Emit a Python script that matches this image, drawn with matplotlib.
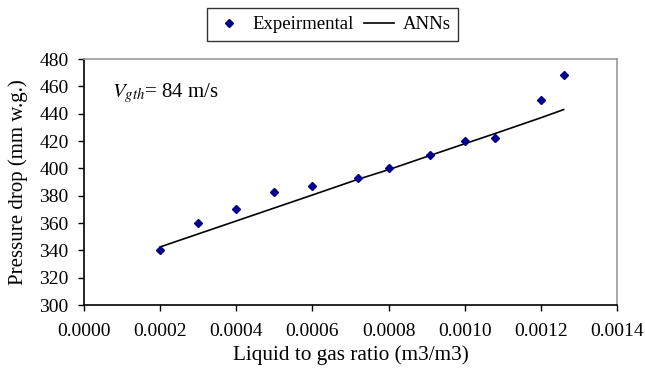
import matplotlib
matplotlib.use("Agg")
import matplotlib.pyplot as plt
from matplotlib.lines import Line2D

plt.rcParams['font.family'] = ['Liberation Serif', 'DejaVu Serif']

lg_ratio = [0.0002, 0.0003, 0.0004, 0.0005, 0.0006, 0.00072, 0.0008, 0.00091, 0.0010, 0.00108, 0.0012, 0.00126]
exp_dp = [340, 360, 370, 383, 387, 393, 400, 410, 420, 422, 450, 468]
ann_dp = [342.5, 352, 361.5, 371, 380.5, 392, 399, 409.5, 418, 425.5, 437, 443]

x_ticks = [0.0000, 0.0002, 0.0004, 0.0006, 0.0008, 0.0010, 0.0012, 0.0014]
y_ticks = [300, 320, 340, 360, 380, 400, 420, 440, 460, 480]

fig = plt.figure(figsize=(6.45, 3.68), dpi=100)
ax = fig.add_axes([84/645, 1-305/368, (617-84)/645, (305-59)/368])

ax.plot(lg_ratio, ann_dp, color='black', lw=1.2, zorder=2)
ax.plot(lg_ratio, exp_dp, linestyle='none', marker='D', ms=4.2, color='#00008B', zorder=3)

ax.set_xlim(0, 0.0014)
ax.set_ylim(300, 480)
ax.set_xticks(x_ticks)
ax.set_xticklabels([f"{v:.4f}" for v in x_ticks])
ax.set_yticks(y_ticks)
ax.tick_params(axis='x', direction='out', length=4.5, width=1, labelsize=14, pad=8.5)
ax.tick_params(axis='y', direction='out', length=4.5, width=1, labelsize=14, pad=6.5)

for s in ['top', 'right']:
    ax.spines[s].set_color('#999999')
    ax.spines[s].set_linewidth(1.2)
for s in ['left', 'bottom']:
    ax.spines[s].set_color('black')
    ax.spines[s].set_linewidth(1.2)

ax.set_xlabel('Liquid to gas ratio (m3/m3)', fontsize=15.3, labelpad=4)
ax.set_ylabel('Pressure drop (mm w.g.)', fontsize=15, labelpad=8)

ax.text(0.0000735, 455, r'$V_{gth}$= 84 m/s', fontsize=15, ha='left', va='center',
        math_fontfamily='stix')

handles = [Line2D([], [], linestyle='none', marker='D', ms=4.2, color='#00008B'),
           Line2D([], [], color='black', lw=1.2)]
leg = fig.legend(handles, ['Expeirmental', 'ANNs'], loc='center', bbox_to_anchor=(332.5/645, 1-24.5/368),
                 ncol=2, frameon=True, fancybox=False, edgecolor='black', fontsize=13.5,
                 handlelength=1.6, columnspacing=0.55, handletextpad=0.45, borderpad=0.4)
leg.get_frame().set_linewidth(1.0)

fig.savefig('out.png', dpi=100)
